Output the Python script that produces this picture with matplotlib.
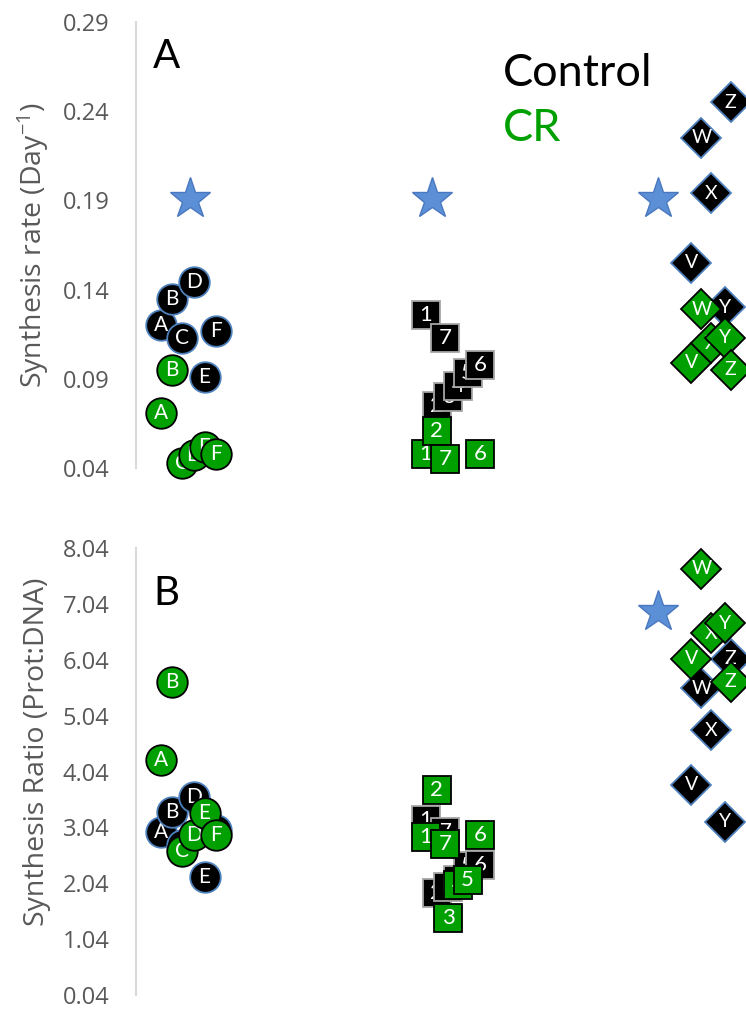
import matplotlib.pyplot as plt
import numpy as np

plt.rcParams['font.family'] = ['Lato', 'DejaVu Sans']
plt.rcParams['mathtext.default'] = 'regular'

nan = np.nan

# subject ids of the three groups
letters = ["A", "B", "C", "D", "E", "F"]
numbers = ["1", "2", "3", "4", "5", "6", "7"]
strains = ["V", "W", "X", "Y", "Z"]

# horizontal spread of each subject inside its group (same in both panels)
jitter_letters = [-0.095, -0.05, -0.013, 0.035, 0.077, 0.123]
jitter_numbers = [-0.055, -0.013, 0.033, 0.072, 0.108, 0.157, 0.02]
jitter_strains = [-0.015, 0.025, 0.063, 0.118, 0.14]

# panel A: synthesis rate (day^-1)
rate_ctrl_letters = [0.120, 0.135, 0.113, 0.144, 0.091, 0.117]
rate_cr_letters = [0.071, 0.095, 0.043, 0.047, 0.052, 0.048]
rate_ctrl_numbers = [0.126, 0.075, 0.080, 0.086, 0.093, 0.098, 0.113]
rate_cr_numbers = [0.048, 0.061, nan, nan, nan, 0.048, 0.045]
rate_ctrl_strains = [0.155, 0.225, 0.194, 0.130, 0.245]
rate_cr_strains = [0.099, 0.129, 0.110, 0.113, 0.095]
rate_star_x = [0.02, 0.97, 1.855]
rate_star_y = [0.191, 0.191, 0.191]

# panel B: synthesis ratio (prot:DNA)
ratio_ctrl_letters = [2.96, 3.32, 2.72, 3.59, 2.16, 2.99]
ratio_cr_letters = [4.24, 5.65, 2.62, 2.90, 3.29, 2.90]
ratio_ctrl_numbers = [3.17, 1.86, 1.97, 2.10, 2.34, 2.37, 2.95]
ratio_cr_numbers = [2.87, 3.71, 1.41, 2.01, 2.10, 2.90, 2.75]
ratio_ctrl_strains = [3.80, 5.53, 4.78, 3.14, 6.06]
ratio_cr_strains = [6.06, 7.67, 6.51, 6.69, 5.65]
ratio_star_x = [1.855]
ratio_star_y = [6.90]

GREEN = '#00a000'
GREY = '#595959'
AXIS_FONT = ['Open Sans', 'DejaVu Sans']

# marker style per group: (marker, size, label fontsize, control edge colour)
group_style = [('o', 22, 15, '#4f81bd'), ('s', 20, 16, '#a6a6a6'),
               ('D', 20, 14, '#4f81bd')]


def draw_points(ax, center, ids, jitter, values, face, edge, style, z):
    marker, size, fs, ctrl_edge = style
    if edge is None:
        edge = ctrl_edge
    for name, dx, v in zip(ids, jitter, values):
        if np.isnan(v):
            continue
        x = center + dx
        ax.plot(x, v, marker=marker, ms=size, mfc=face, mec=edge, mew=1.3,
                ls='none', zorder=z, clip_on=False)
        ax.text(x, v, name, color='white', fontsize=fs, ha='center',
                va='center', zorder=z + 0.5)
        z += 1
    return z


def draw_panel(ax, groups, stars_x, stars_y, ticks, ylabel, label_y):
    z = 2
    # controls first, CR drawn on top
    for center, (ids, jitter, ctrl, cr) in enumerate(groups):
        z = draw_points(ax, center, ids, jitter, ctrl, 'black', None,
                        group_style[center], z)
    for center, (ids, jitter, ctrl, cr) in enumerate(groups):
        z = draw_points(ax, center, ids, jitter, cr, GREEN, 'black',
                        group_style[center], z)
    ax.plot(stars_x, stars_y, ls='none', marker='*', ms=31, mfc='#5b8fd6',
            mec='#4a78c0', mew=1, zorder=z + 1, clip_on=False)

    ax.set_xlim(-0.192, 2.2)
    ax.set_ylim(ticks[0], ticks[-1])
    ax.set_yticks(ticks)
    ax.set_xticks([])
    for s in ['top', 'right', 'bottom']:
        ax.spines[s].set_visible(False)
    ax.spines['left'].set_color('#d9d9d9')
    ax.spines['left'].set_linewidth(1.5)
    ax.tick_params(axis='y', length=0, pad=19, labelsize=17, labelcolor=GREY)
    for lab in ax.get_yticklabels():
        lab.set_family(AXIS_FONT)
    ax.set_ylabel(ylabel, fontsize=20.5, color=GREY, family=AXIS_FONT)
    ax.yaxis.set_label_coords(-0.14, label_y)


fig = plt.figure(figsize=(7.46, 10.09), dpi=100)
ax_a = fig.add_axes([136 / 746, 0.5362, 1 - 136 / 746, 0.442])
ax_b = fig.add_axes([136 / 746, 0.01388, 1 - 136 / 746, 0.443])

rate_groups = [
    (letters, jitter_letters, rate_ctrl_letters, rate_cr_letters),
    (numbers, jitter_numbers, rate_ctrl_numbers, rate_cr_numbers),
    (strains, jitter_strains, rate_ctrl_strains, rate_cr_strains),
]
ratio_groups = [
    (letters, jitter_letters, ratio_ctrl_letters, ratio_cr_letters),
    (numbers, jitter_numbers, ratio_ctrl_numbers, ratio_cr_numbers),
    (strains, jitter_strains, ratio_ctrl_strains, ratio_cr_strains),
]

ax_a.yaxis.set_major_formatter(plt.FormatStrFormatter('%.2f'))
ax_b.yaxis.set_major_formatter(plt.FormatStrFormatter('%.2f'))
draw_panel(ax_a, rate_groups, rate_star_x, rate_star_y,
           np.round(np.arange(0.04, 0.30, 0.05), 2),
           'Synthesis rate (Day$^{-1}$)', 0.5)
draw_panel(ax_b, ratio_groups, ratio_star_x, ratio_star_y,
           np.arange(0.04, 8.05, 1.0),
           'Synthesis Ratio (Prot:DNA)', 0.544)

fig.text(153 / 746, 1 - 68 / 1009, 'A', fontsize=29, va='baseline')
fig.text(153 / 746, 1 - 605 / 1009, 'B', fontsize=29, va='baseline')
fig.text(503 / 746, 1 - 86 / 1009, 'Control', fontsize=32.5, va='baseline',
         color='black')
fig.text(503 / 746, 1 - 141 / 1009, 'CR', fontsize=32.5, va='baseline',
         color=GREEN)

fig.savefig('out.png', dpi=100)
